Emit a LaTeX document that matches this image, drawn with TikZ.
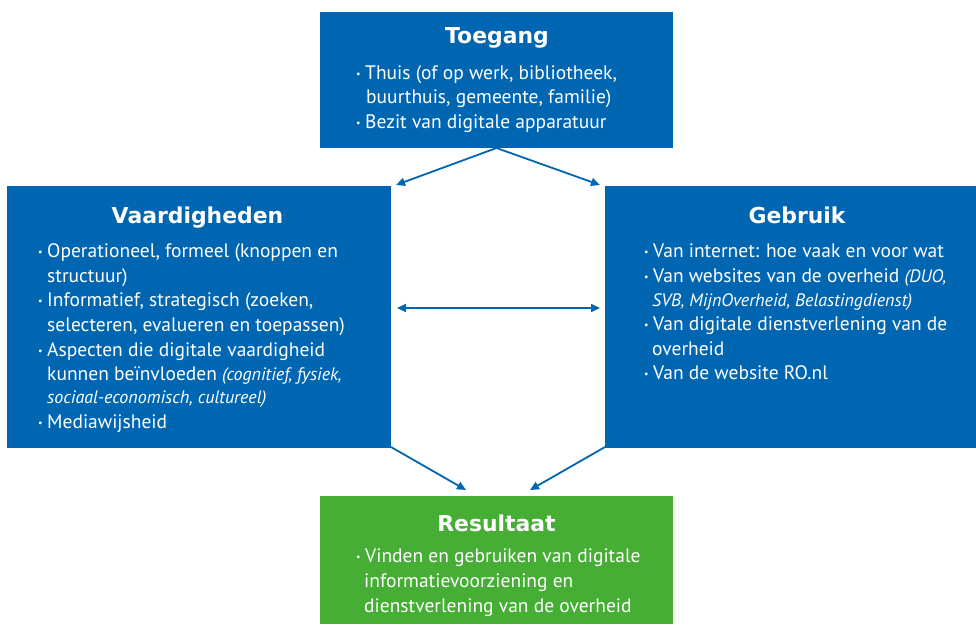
\documentclass[tikz,border=0pt]{standalone}
\usepackage{fontspec}
\setmainfont{PT Sans}
\newfontfamily\titlefont{DejaVu Sans}
\usetikzlibrary{arrows.meta}
\definecolor{roblue}{HTML}{0066B2}
\definecolor{rogreen}{HTML}{46AD35}
\newcommand\bul{\makebox[9pt][l]{\raisebox{1.8pt}{\fontsize{10}{10}\selectfont •}}}
\newcommand\itl[1]{{\fontsize{18}{20}\selectfont\itshape #1}}
\begin{document}
\begin{tikzpicture}[x=1pt,y=-1pt,
  bluebox/.style={fill=roblue,draw=none,inner sep=0pt,outer sep=0pt},
  greenbox/.style={fill=rogreen,draw=none,inner sep=0pt,outer sep=0pt},
  ttl/.style={anchor=base,inner sep=0pt,text=white,font=\titlefont\bfseries\fontsize{21.9}{24}\selectfont},
  ln/.style={anchor=base west,inner sep=0pt,text=white,font=\fontsize{19.5}{22}\selectfont},
  conn/.style={draw=roblue,line width=1.8pt,-{Triangle[length=9pt,width=8pt]}},
  dconn/.style={draw=roblue,line width=1.8pt,{Triangle[length=9pt,width=8pt]}-{Triangle[length=9pt,width=8pt]}}]
\useasboundingbox (0,0) rectangle (976,624);
% boxes
\node[bluebox,minimum width=353pt,minimum height=136pt] (toe) at (496.5,80) {};
\node[bluebox,minimum width=384pt,minimum height=262pt] (vaa) at (199,317) {};
\node[bluebox,minimum width=371pt,minimum height=262pt] (geb) at (790.5,317) {};
\node[greenbox,minimum width=353pt,minimum height=128pt] (res) at (496.5,560) {};
% Toegang
\node[ttl] (toeT) at (497,43) {Toegang};
\node[ln] (toe1) at (356,79) {\bul Thuis (of op werk, bibliotheek,};
\node[ln] (toe2) at (366,103) {buurthuis, gemeente, familie)};
\node[ln] (toe3) at (356,128) {\bul Bezit van digitale apparatuur};
% Vaardigheden
\node[ttl] (vaaT) at (197.5,223) {Vaardigheden};
\node[ln] (vaa1) at (38,257) {\bul Operationeel, formeel (knoppen en};
\node[ln] (vaa2) at (47,282) {structuur)};
\node[ln] (vaa3) at (38,306.5) {\bul Informatief, strategisch (zoeken,};
\node[ln] (vaa4) at (47,331) {selecteren, evalueren en toepassen)};
\node[ln] (vaa5) at (38,356) {\bul Aspecten die digitale vaardigheid};
\node[ln] (vaa6) at (47,380) {kunnen beïnvloeden \itl{(cognitief, fysiek,}};
\node[ln] (vaa7) at (47,403) {\itl{sociaal-economisch, cultureel)}};
\node[ln] (vaa8) at (38,428) {\bul Mediawijsheid};
% Gebruik
\node[ttl] (gebT) at (797,223) {Gebruik};
\node[ln] (geb1) at (644,257) {\bul Van internet: hoe vaak en voor wat};
\node[ln] (geb2) at (644,282) {\bul Van websites van de overheid \itl{(DUO,}};
\node[ln] (geb3) at (652,306) {\itl{SVB, MijnOverheid, Belastingdienst)}};
\node[ln] (geb4) at (644,330.5) {\bul Van digitale dienstverlening van de};
\node[ln] (geb5) at (652,355) {overheid};
\node[ln] (geb6) at (644,379) {\bul Van de website RO.nl};
% Resultaat
\node[ttl] (resT) at (496.5,531) {Resultaat};
\node[ln] (res1) at (356,562) {\bul Vinden en gebruiken van digitale};
\node[ln] (res2) at (364,587) {informatievoorziening en};
\node[ln] (res3) at (364,612) {dienstverlening van de overheid};
% connectors
\coordinate (tl) at (396,185);
\coordinate (tr) at (600,185);
\coordinate (ml) at (397,308);
\coordinate (mr) at (600,308);
\coordinate (bl) at (466,490);
\coordinate (br) at (530,490);
\coordinate (vaaC) at (391,447);
\coordinate (gebC) at (605,447);
\draw[conn] (toe.south) -- (tl);
\draw[conn] (toe.south) -- (tr);
\draw[dconn] (ml) -- (mr);
\draw[conn] (vaaC) -- (bl);
\draw[conn] (gebC) -- (br);
\end{tikzpicture}
\end{document}
